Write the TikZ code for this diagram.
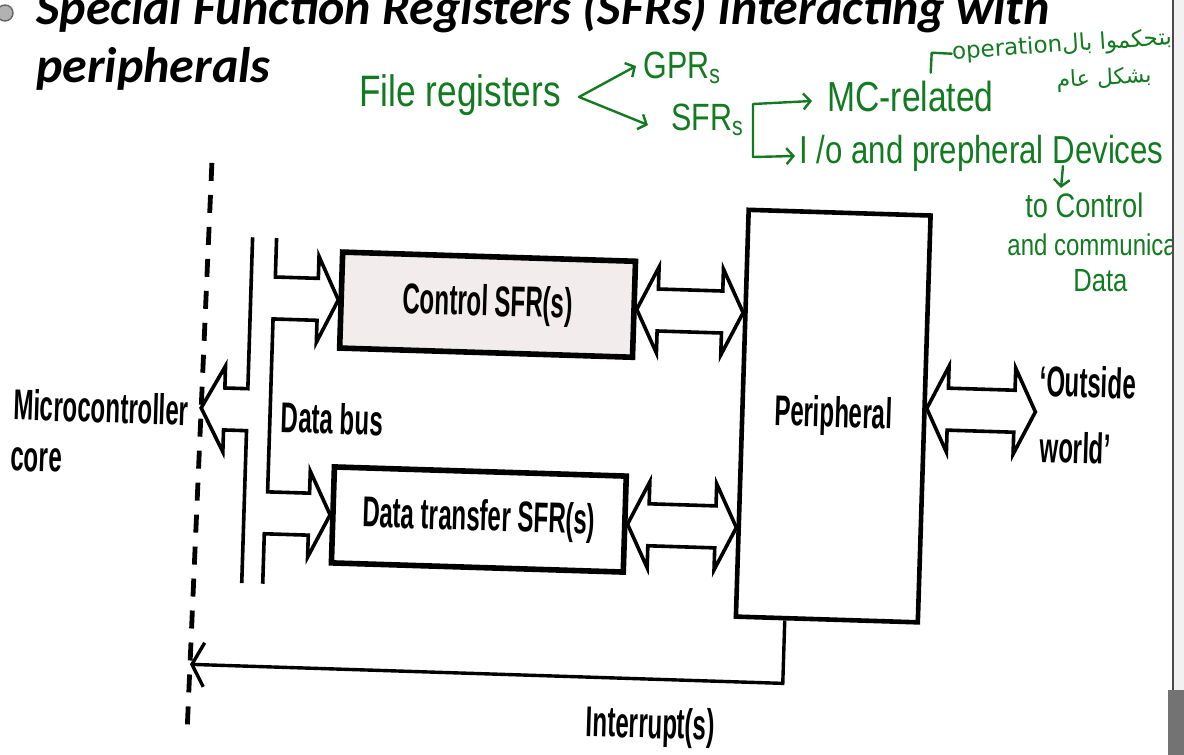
\documentclass[tikz,border=0pt]{standalone}
\usepackage{fontspec}
\usetikzlibrary{calc,arrows.meta}
\TeXXeTstate=1
\newfontfamily\condfont[FakeStretch=0.56]{Liberation Sans}
\newfontfamily\titlefont{Carlito}
\newfontfamily\handfont[FakeStretch=0.8]{Liberation Sans}
\newfontfamily\arabicfont[Script=Arabic]{DejaVu Sans}
\definecolor{ink}{RGB}{18,122,32}
\definecolor{ctlfill}{RGB}{242,236,236}
\begin{document}
\begin{tikzpicture}[x=0.5pt,y=-0.5pt,
  lbl/.style={font=\condfont\bfseries\fontsize{21.5pt}{24pt}\selectfont, inner sep=0pt},
  sfrbox/.style={lbl, draw, line width=2.8pt, minimum height=48pt},
  perbox/.style={lbl, draw, line width=2.3pt},
  busline/.style={line width=1.8pt, line join=miter},
  hollow/.style={draw, line width=1.8pt, fill=white, line join=miter},
  dashline/.style={line width=2.4pt, dash pattern=on 9pt off 7pt},
  intline/.style={line width=1.7pt, line join=miter, -{Straight Barb[length=6pt,width=22pt]}},
  hand/.style={draw=ink, line width=1.2pt, line cap=round, line join=round},
  handarrow/.style={hand, -{Straight Barb[length=3.5pt,width=8pt]}},
  handtext/.style={text=ink, inner sep=0pt, anchor=base west},
  arabictext/.style={text=ink, inner sep=0pt, font=\arabicfont\fontsize{11.5pt}{14pt}\selectfont},
  titletext/.style={anchor=base west, inner sep=0pt, font=\titlefont\bfseries\itshape\fontsize{25pt}{30pt}\selectfont}]
\useasboundingbox (0,0) rectangle (1184,755);
\clip (0,0) rectangle (1184,755);

% ---------- title ----------
\node[circle, fill=gray!60, draw=black!60, line width=0.7pt, minimum size=8pt, inner sep=0pt] (bullet) at (5,13) {};
\node[titletext] (title1) at (36,25) {Special Function Registers (SFRs) interacting with};
\node[titletext] (title2) at (36,82) {peripherals};

% ---------- diagram (photo is slightly rotated) ----------
\begin{scope}[rotate around={-1.8:(560,420)}, transform shape]
  \coordinate (dtop) at (204,174);
  \coordinate (dbot) at (197,747);
  \draw[dashline] (dtop) -- (dbot);
  \coordinate (bustip) at ($(dtop)!0.428!(dbot)$);
  \coordinate (intend) at ($(dtop)!0.876!(dbot)$);

  \node[sfrbox, fill=ctlfill, minimum width=146.5pt] (ctl) at (484,307) {Control SFR(s)};
  \node[sfrbox, fill=white, minimum width=146pt] (dat) at (482,522) {Data transfer SFR(s)};
  \node[perbox, minimum width=91pt, minimum height=203.5pt] (per) at (833,407.5) {Peripheral};

  \node[lbl, anchor=base west] (mcu1) at (13,437) {Microcontroller};
  \node[lbl, anchor=base west] (mcu2) at (12,488) {core};
  \node[lbl, anchor=base west] (bus) at (281,441) {Data bus};
  \node[lbl, anchor=base west] (ow1) at (1038,381) {‘Outside};
  \node[lbl, anchor=base west] (ow2) at (1040,447) {world’};
  \node[lbl] (intl) at (660,724) {Interrupt(s)};

  % data bus: outer line with hollow arrow to the core
  \draw[busline] (247,247) -- (247,398.5) -- (224,398.5) -- (224,376.5) -- (bustip)
     -- (224,462.5) -- (224,440.5) -- (247,440.5) -- (247,593);
  % data bus: inner line feeding both SFRs
  \draw[busline] (271,247) -- (271,286) -- (314,286) -- (314,264) -- (ctl.west)
     -- (314,350) -- (314,328) -- (270,328) -- (270,501) -- (312,501) -- (312,479)
     -- (dat.west) -- (312,565) -- (312,543) -- (268,543) -- (268,593);

  % hollow double arrows
  \draw[hollow] (ctl.east) -- ++(21,-43) -- ++(0,22) -- ++(64.4,0) -- ++(0,-22) -- ++(21,43)
     -- ++(-21,43) -- ++(0,-22) -- ++(-64.4,0) -- ++(0,22) -- cycle;
  \draw[hollow] (dat.east) -- ++(21,-43) -- ++(0,22) -- ++(66.9,0) -- ++(0,-22) -- ++(21,43)
     -- ++(-21,43) -- ++(0,-22) -- ++(-66.9,0) -- ++(0,22) -- cycle;
  \draw[hollow] ($(per.north east)!0.4745!(per.south east)$) -- ++(21,-43) -- ++(0,22) -- ++(66.7,0)
     -- ++(0,-22) -- ++(21,43) -- ++(-21,43) -- ++(0,-22) -- ++(-66.7,0) -- ++(0,22) -- cycle;

  % interrupt line
  \draw[intline] ($(per.south west)!0.275!(per.south east)$) -- ++(0,63) -- (intend);
\end{scope}

% ---------- handwritten notes ----------
\node[handtext, font=\handfont\fontsize{22pt}{26pt}\selectfont] (fr) at (359,106) {File registers};
\node[handtext, font=\handfont\fontsize{19pt}{22pt}\selectfont] (gpr) at (643,78) {GPR\textsubscript{s}};
\node[handtext, font=\handfont\fontsize{19pt}{22pt}\selectfont] (sfr) at (671,130) {SFR\textsubscript{s}};
\node[handtext, font=\handfont\fontsize{21pt}{24pt}\selectfont] (mc) at (827,111) {MC-related};
\node[handtext, font=\handfont\fontsize{19.5pt}{22pt}\selectfont] (io) at (799,163) {I /o and prepheral Devices};
\node[handtext, font=\handfont\fontsize{17pt}{20pt}\selectfont] (tc) at (1025,217) {to Control};
\node[handtext, font=\handfont\fontsize{15pt}{18pt}\selectfont] (ac) at (1007,255) {and communicat};
\node[handtext, font=\handfont\fontsize{16pt}{19pt}\selectfont] (dt) at (1073,291) {Data};
\node[arabictext, rotate=4] (ar1) at (1062,46)
  {\beginR بتحكموا بال\beginL operation\endL\endR};
\node[arabictext, rotate=3, font=\arabicfont\fontsize{11pt}{14pt}\selectfont] (ar2) at (1104,79)
  {\beginR بشكل عام\endR};

\coordinate (fork) at (579,97);
\coordinate (gprpt) at (636,66);
\coordinate (sfrpt) at (648,125);
\draw[handarrow] (fork) -- (gprpt);
\draw[handarrow] (fork) -- (sfrpt);
\coordinate (brb) at (753,157);
\coordinate (brt) at (753,104);
\coordinate (mcpt) at (812,101);
\coordinate (iopt) at (795,156);
\draw[handarrow] (brb) -- (brt) -- (mcpt);
\draw[handarrow] (brb) -- (iopt);
\draw[handarrow] (1063,166) -- (1061,188);
\draw[hand] (ar1.west) -- ++(-20,-1) -- ++(-1,20);

% ---------- page edge of the photo ----------
\fill[gray!10] (1174,0) rectangle (1184,700);
\draw[black!70, line width=0.8pt] (1173,0) -- (1173,700);
\fill[black!55] (1168,690) rectangle (1184,755);
\end{tikzpicture}
\end{document}
